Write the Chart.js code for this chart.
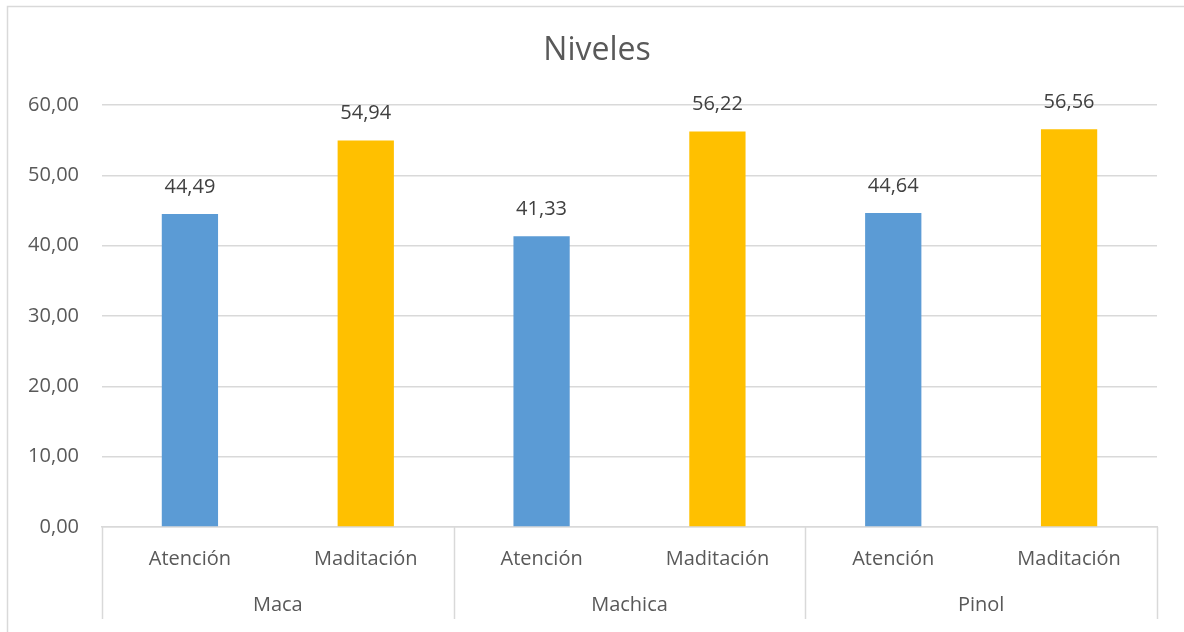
<!DOCTYPE html>
<html>
<head>
<meta charset="utf-8">
<script src="https://cdn.jsdelivr.net/npm/chart.js@4.4.1/dist/chart.umd.min.js"></script>
<style>
  html, body { margin: 0; padding: 0; background: #fff; }
  #wrap { width: 1184px; height: 632px; }
</style>
</head>
<body>
<div id="wrap"><canvas id="niveles" width="1184" height="632"></canvas></div>
<script>
const groups = ["Maca", "Machica", "Pinol"];
const measures = ["Atención", "Maditación"];
const values = [44.49, 54.94, 41.33, 56.22, 44.64, 56.56];
const yTicks = [0, 10, 20, 30, 40, 50, 60];

const measureColors = ["#5B9BD5", "#FFC000"];
const textColor = "#595959";
const lineColor = "#D9D9D9";
const fontFamily = "'Open Sans', 'DejaVu Sans', sans-serif";

// one bar per (group, measure) pair
const labels = [];
const colors = [];
groups.forEach(() => {
  measures.forEach((m, j) => {
    labels.push(m);
    colors.push(measureColors[j]);
  });
});

const fmt = (v) => v.toFixed(2).replace(".", ",");

const excelDecor = {
  id: "excelDecor",
  beforeDraw(chart) {
    const c = chart.ctx;
    c.save();
    c.fillStyle = "#fff";
    c.fillRect(0, 0, chart.width, chart.height);
    c.strokeStyle = lineColor;
    c.lineWidth = 1.5;
    c.strokeRect(7.5, 6.5, chart.width + 20, chart.height + 20);
    c.restore();
  },
  afterDraw(chart) {
    const c = chart.ctx;
    const area = chart.chartArea;
    const step = (area.right - area.left) / labels.length;
    c.save();

    // title
    c.fillStyle = textColor;
    c.font = "32px " + fontFamily;
    c.textAlign = "center";
    c.textBaseline = "middle";
    c.fillText("Niveles", 597, 51);

    // group separators on the category axis
    c.strokeStyle = lineColor;
    c.lineWidth = 1.5;
    for (let g = 0; g <= groups.length; g++) {
      const px = Math.round(area.left + g * measures.length * step) + 0.5;
      c.beginPath();
      c.moveTo(px, area.bottom);
      c.lineTo(px, 619);
      c.stroke();
    }

    // group labels
    c.font = "20px " + fontFamily;
    c.fillStyle = textColor;
    groups.forEach((g, i) => {
      const cx = area.left + (i + 0.5) * measures.length * step;
      c.fillText(g, cx, 605);
    });

    // value labels above bars
    c.fillStyle = "#404040";
    const meta = chart.getDatasetMeta(0);
    meta.data.forEach((bar, i) => {
      c.fillText(fmt(values[i]), bar.x, bar.y - 27);
    });
    c.restore();
  }
};

new Chart(document.getElementById("niveles"), {
  type: "bar",
  data: {
    labels: labels,
    datasets: [{
      data: values,
      backgroundColor: colors,
      barPercentage: 0.32,
      categoryPercentage: 1
    }]
  },
  options: {
    responsive: false,
    animation: false,
    layout: { padding: { top: 105, left: 8, right: 27, bottom: 0 } },
    plugins: {
      legend: { display: false },
      title: { display: false },
      tooltip: { enabled: false }
    },
    scales: {
      x: {
        grid: { display: false },
        border: { display: true, color: lineColor, width: 1.5 },
        ticks: {
          color: textColor,
          font: { family: fontFamily, size: 20 },
          padding: 12,
          maxRotation: 0
        },
        afterFit(scale) { scale.height = 105; }
      },
      y: {
        min: 0,
        max: 60,
        afterBuildTicks(scale) { scale.ticks = yTicks.map(v => ({ value: v })); },
        grid: { color: lineColor, lineWidth: 1.5, drawTicks: false },
        border: { display: false },
        ticks: {
          color: textColor,
          font: { family: fontFamily, size: 20 },
          padding: 23,
          callback: (v) => fmt(v)
        },
        afterFit(scale) { scale.width = 94; }
      }
    }
  },
  plugins: [excelDecor]
});
</script>
</body>
</html>
